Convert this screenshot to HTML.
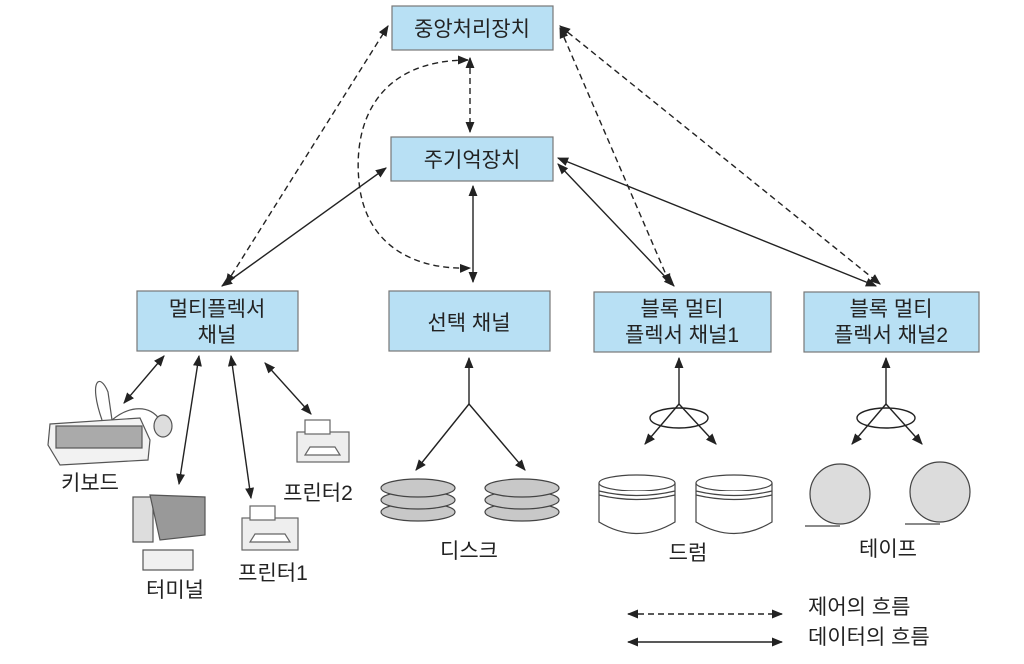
<!DOCTYPE html>
<html><head><meta charset="utf-8"><style>
body{margin:0;background:#fff}
svg{display:block}
text{font-family:"Liberation Sans","Noto Sans CJK KR",sans-serif;fill:#222}
</style></head><body>
<svg width="1024" height="664" viewBox="0 0 1024 664">
<defs>
<marker id="a" viewBox="0 0 10 10" refX="9" refY="5" markerWidth="8" markerHeight="8" orient="auto-start-reverse"><path d="M0,1 L10,5 L0,9 z" fill="#222"/></marker>
</defs>
<g fill="#b8e0f4" stroke="#777" stroke-width="1.2">
<rect x="392" y="6" width="161" height="44"/>
<rect x="391" y="137" width="162" height="44"/>
<rect x="137" y="291" width="161" height="60"/>
<rect x="389" y="291" width="161" height="60"/>
<rect x="594" y="292" width="177" height="60"/>
<rect x="804" y="292" width="175" height="60"/>
</g>
<g font-size="21" text-anchor="middle">
<text x="472" y="36">중앙처리장치</text>
<text x="472" y="167">주기억장치</text>
<text x="217" y="316">멀티플렉서</text><text x="217" y="342">채널</text>
<text x="469" y="330">선택 채널</text>
<text x="682" y="316">블록 멀티</text><text x="682" y="342">플렉서 채널1</text>
<text x="891" y="316">블록 멀티</text><text x="891" y="342">플렉서 채널2</text>
<text x="90" y="490">키보드</text>
<text x="175" y="597">터미널</text>
<text x="273" y="580">프린터1</text>
<text x="318" y="500">프린터2</text>
<text x="469" y="558">디스크</text>
<text x="688" y="560">드럼</text>
<text x="888" y="556">테이프</text>
<text x="808" y="614" text-anchor="start">제어의 흐름</text>
<text x="808" y="644" text-anchor="start">데이터의 흐름</text>
</g>
<g stroke="#222" stroke-width="1.4" fill="none">
<g stroke-dasharray="6,4">
<line x1="226" y1="284" x2="388" y2="26" marker-start="url(#a)" marker-end="url(#a)"/>
<line x1="470" y1="58" x2="470" y2="132" marker-start="url(#a)" marker-end="url(#a)"/>
<path d="M468,60 C380,60 350,120 360,190 C370,250 420,270 470,268" marker-start="url(#a)" marker-end="url(#a)"/>
<line x1="560" y1="28" x2="670" y2="284" marker-start="url(#a)" marker-end="url(#a)"/>
<line x1="560" y1="26" x2="880" y2="284" marker-start="url(#a)" marker-end="url(#a)"/>
<line x1="628" y1="614" x2="782" y2="614" marker-start="url(#a)" marker-end="url(#a)"/>
</g>
<line x1="222" y1="286" x2="386" y2="168" marker-start="url(#a)" marker-end="url(#a)"/>
<line x1="473" y1="186" x2="473" y2="282" marker-start="url(#a)" marker-end="url(#a)"/>
<line x1="558" y1="164" x2="674" y2="286" marker-start="url(#a)" marker-end="url(#a)"/>
<line x1="558" y1="158" x2="876" y2="286" marker-start="url(#a)" marker-end="url(#a)"/>
<line x1="628" y1="642" x2="782" y2="642" marker-start="url(#a)" marker-end="url(#a)"/>
<line x1="164" y1="356" x2="124" y2="403" marker-start="url(#a)" marker-end="url(#a)"/>
<line x1="199" y1="356" x2="179" y2="484" marker-start="url(#a)" marker-end="url(#a)"/>
<line x1="231" y1="356" x2="251" y2="498" marker-start="url(#a)" marker-end="url(#a)"/>
<line x1="265" y1="363" x2="311" y2="414" marker-start="url(#a)" marker-end="url(#a)"/>
<line x1="469" y1="358" x2="469" y2="404" marker-start="url(#a)"/>
<line x1="469" y1="404" x2="416" y2="470" marker-end="url(#a)"/>
<line x1="469" y1="404" x2="525" y2="470" marker-end="url(#a)"/>
<line x1="679" y1="358" x2="679" y2="404" marker-start="url(#a)"/>
<line x1="679" y1="404" x2="645" y2="444" marker-end="url(#a)"/>
<line x1="679" y1="404" x2="716" y2="444" marker-end="url(#a)"/>
<ellipse cx="679" cy="418" rx="29" ry="10"/>
<line x1="886" y1="358" x2="886" y2="404" marker-start="url(#a)"/>
<line x1="886" y1="404" x2="852" y2="444" marker-end="url(#a)"/>
<line x1="886" y1="404" x2="922" y2="444" marker-end="url(#a)"/>
<ellipse cx="886" cy="418" rx="29" ry="10"/>
</g>
<g fill="#c8c8c8" stroke="#444" stroke-width="1.2">
<ellipse cx="418" cy="512" rx="37" ry="9"/><ellipse cx="418" cy="500" rx="37" ry="9"/><ellipse cx="418" cy="488" rx="37" ry="9"/>
<ellipse cx="522" cy="512" rx="37" ry="9"/><ellipse cx="522" cy="500" rx="37" ry="9"/><ellipse cx="522" cy="488" rx="37" ry="9"/>
</g>
<g fill="#fff" stroke="#444" stroke-width="1.2">
<path d="M599,483 L599,522 Q637,545 675,522 L675,483"/><ellipse cx="637" cy="483" rx="38" ry="8"/>
<path d="M599,491 Q637,500 675,491 M599,495 Q637,504 675,495"/>
<path d="M696,483 L696,522 Q734,545 772,522 L772,483"/><ellipse cx="734" cy="483" rx="38" ry="8"/>
<path d="M696,491 Q734,500 772,491 M696,495 Q734,504 772,495"/>
</g>
<g fill="#dcdcdc" stroke="#444" stroke-width="1.2">
<circle cx="840" cy="494" r="30"/><line x1="805" y1="526" x2="840" y2="526"/>
<circle cx="940" cy="492" r="30"/><line x1="905" y1="524" x2="940" y2="524"/>
</g>
<g stroke="#555" stroke-width="1.2">
<path d="M102,420 C88,380 100,372 108,392 L112,420" fill="none"/>
<path d="M112,420 C130,405 150,405 160,420" fill="none"/>
<path d="M50,424 L140,418 L150,440 L148,460 L60,465 L48,445 z" fill="#f2f2f2"/>
<rect x="56" y="426" width="86" height="22" fill="#aaa"/>
<ellipse cx="163" cy="426" rx="9" ry="11" fill="#ddd"/>
</g>
<g stroke="#555" stroke-width="1.2">
<rect x="133" y="497" width="20" height="45" fill="#ddd"/>
<path d="M150,495 L205,497 L205,535 L160,540 z" fill="#999"/>
<rect x="143" y="550" width="50" height="20" fill="#f0f0f0"/>
</g>
<g stroke="#666" stroke-width="1.2" fill="#eee">
<rect x="297" y="432" width="52" height="30"/><rect x="305" y="420" width="25" height="14" fill="#fff"/>
<path d="M305,455 L340,455 L335,447 L310,447 z" fill="#fff"/>
<rect x="242" y="518" width="56" height="32"/><rect x="250" y="506" width="25" height="14" fill="#fff"/>
<path d="M250,542 L290,542 L285,534 L255,534 z" fill="#fff"/>
</g>
</svg>
</body></html>
